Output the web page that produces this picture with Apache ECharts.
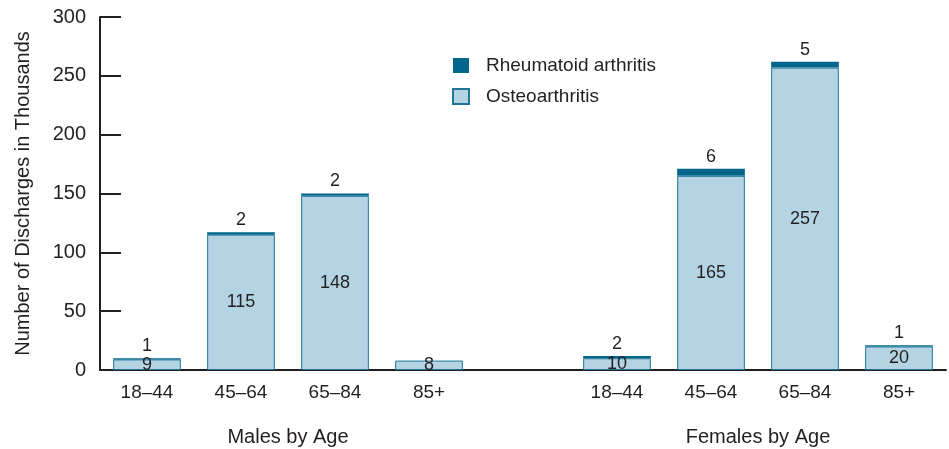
<!DOCTYPE html>
<html>
<head>
<meta charset="utf-8">
<script src="https://cdn.jsdelivr.net/npm/echarts@6/dist/echarts.min.js"></script>
<style>
  html, body { margin: 0; padding: 0; background: #ffffff; }
  #chart { width: 949px; height: 449px; }
</style>
</head>
<body>
<div id="chart"></div>
<script>
// Age groups: four for males, an empty spacer slot, four for females
var ageGroups = ['18\u201344', '45\u201364', '65\u201384', '85+', '', '18\u201344', '45\u201364', '65\u201384', '85+'];
// Discharges in thousands
var osteoarthritis = [9, 115, 148, 8, null, 10, 165, 257, 20];
var rheumatoid = [1, 2, 2, null, null, 2, 6, 5, 1];
// Sex group labels, placed on boundaries of the age slots
var groupLabels = ['', '', 'Males by Age', '', '', '', '', 'Females by Age', '', ''];
var yTicks = { min: 0, max: 300, interval: 50 };

var ink = '#231f20';
var font = 'Liberation Sans, Arial, Helvetica, sans-serif';

var chart = echarts.init(document.getElementById('chart'), null, { renderer: 'canvas' });
chart.setOption({
  animation: false,
  backgroundColor: '#ffffff',
  textStyle: { fontFamily: font, color: ink },
  grid: { left: 100, top: 17, width: 854, bottom: 79, containLabel: false },
  legend: {
    orient: 'vertical',
    left: 447,
    top: 51,
    icon: 'rect',
    itemWidth: 16,
    itemHeight: 15,
    itemGap: 12,
    data: ['Rheumatoid arthritis', 'Osteoarthritis'],
    textStyle: { fontFamily: font, fontSize: 19, color: ink, padding: [0, 0, 0, 12] }
  },
  xAxis: [
    {
      type: 'category',
      data: ageGroups,
      position: 'bottom',
      axisLine: { lineStyle: { color: ink, width: 2 } },
      axisTick: { inside: true, length: 8, lineStyle: { color: ink, width: 2 } },
      axisLabel: { color: ink, fontSize: 19, fontFamily: font, margin: 13, interval: 0 }
    },
    {
      type: 'category',
      data: groupLabels,
      position: 'bottom',
      boundaryGap: false,
      axisLine: { show: false },
      axisTick: { show: false },
      axisLabel: { color: ink, fontSize: 20, fontFamily: font, margin: 57, interval: 0 }
    }
  ],
  yAxis: {
    type: 'value',
    min: yTicks.min,
    max: yTicks.max,
    interval: yTicks.interval,
    name: 'Number of Discharges in Thousands',
    nameLocation: 'middle',
    nameGap: 67,
    nameTextStyle: { color: ink, fontSize: 20, fontFamily: font },
    axisLine: { show: true, lineStyle: { color: ink, width: 2 } },
    axisTick: { show: true, inside: true, length: 21, lineStyle: { color: ink, width: 2 } },
    axisLabel: { color: ink, fontSize: 20, fontFamily: font, margin: 14 },
    splitLine: { show: false }
  },
  series: [
    {
      name: 'Osteoarthritis',
      type: 'bar',
      stack: 'discharges',
      barWidth: '72%',
      data: osteoarthritis,
      itemStyle: { color: '#b4d4e3', borderColor: '#1f7699', borderWidth: 1 },
      label: { show: true, position: 'inside', color: ink, fontSize: 18, fontFamily: font }
    },
    {
      name: 'Rheumatoid arthritis',
      type: 'bar',
      stack: 'discharges',
      barWidth: '72%',
      data: rheumatoid,
      itemStyle: { color: '#00668c', borderColor: '#00668c', borderWidth: 0 },
      label: { show: true, position: 'top', distance: 3, color: ink, fontSize: 18, fontFamily: font }
    }
  ]
});
</script>
</body>
</html>
